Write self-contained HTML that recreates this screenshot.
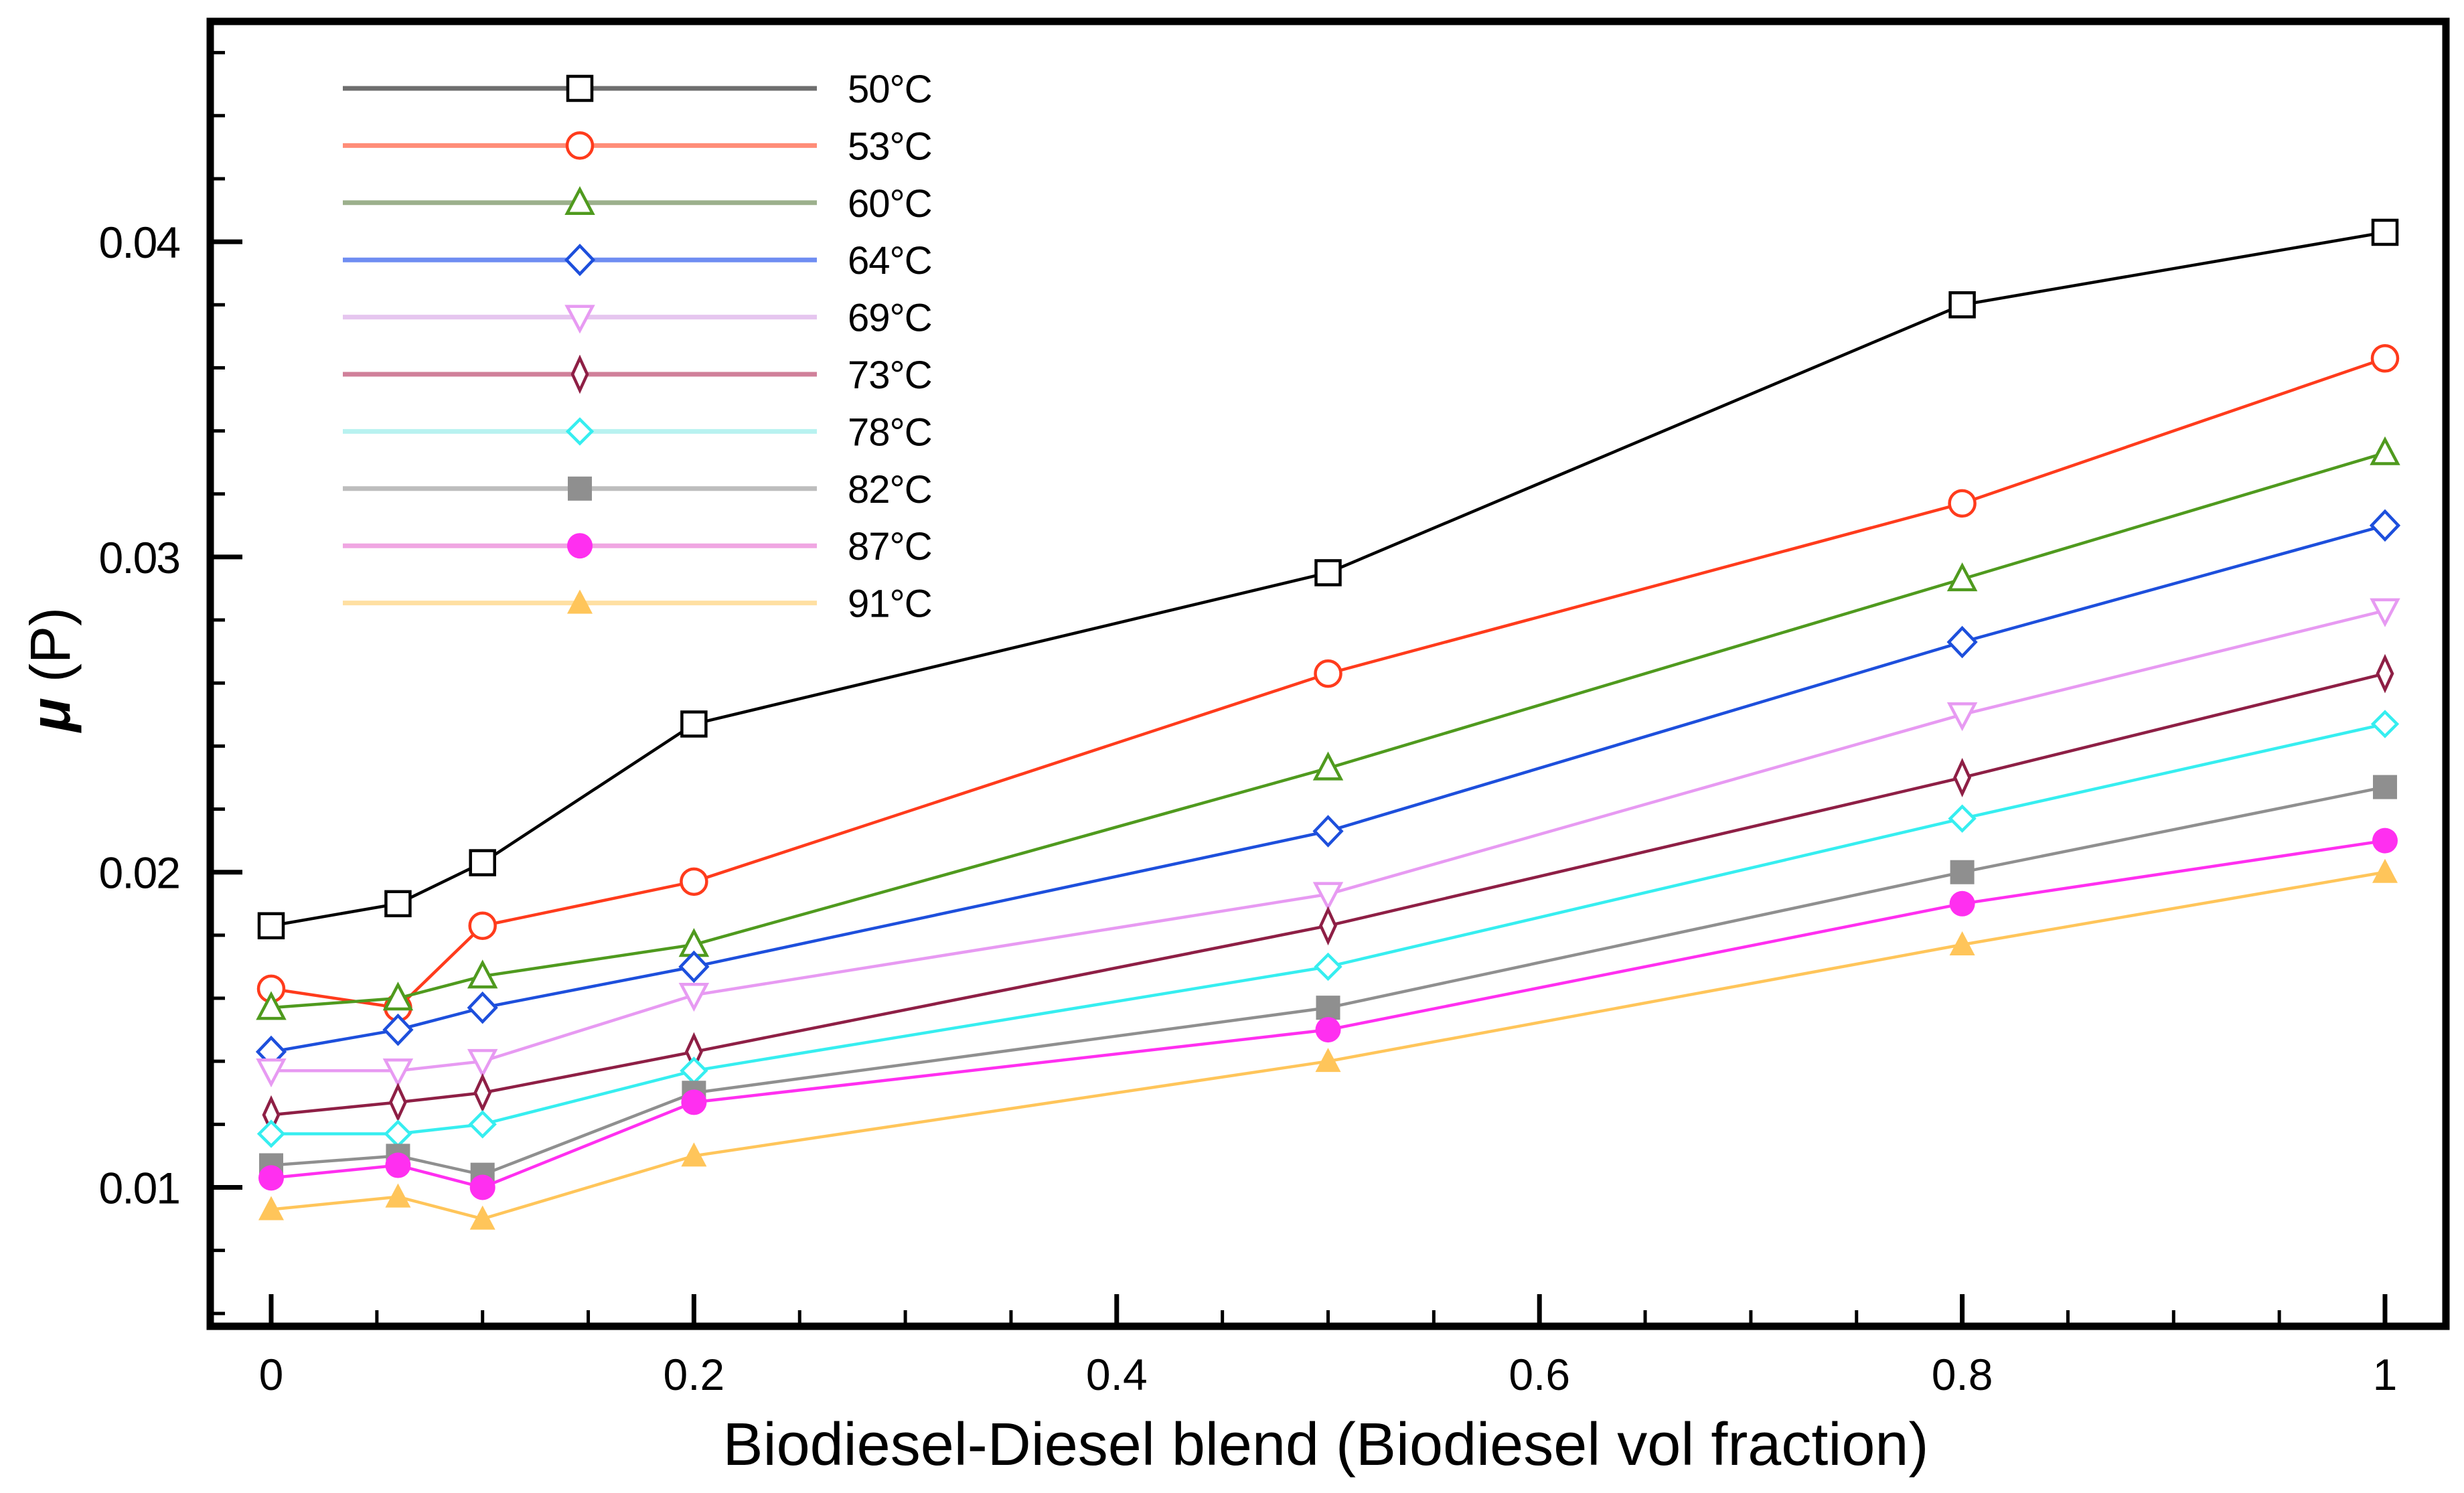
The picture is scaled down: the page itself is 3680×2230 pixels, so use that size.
<!DOCTYPE html>
<html><head><meta charset="utf-8"><style>
html,body{margin:0;padding:0;background:#fff;}
svg{display:block;font-family:"Liberation Sans",sans-serif;}
</style></head><body>
<svg id="chart" width="3680" height="2230" viewBox="0 0 3680 2230" xmlns="http://www.w3.org/2000/svg">
<g id="plot"></g>
<g id="axes"></g>
<g id="legend"></g>
</svg>
<script>
const xValues = [0, 0.06, 0.1, 0.2, 0.5, 0.8, 1];
const seriesNames = ["50°C","53°C","60°C","64°C","69°C","73°C","78°C","82°C","87°C","91°C"];
const s50 = [0.0183,0.0190,0.0203,0.0247,0.0295,0.0380,0.0403];
const s53 = [0.0163,0.0157,0.0183,0.0197,0.0263,0.0317,0.0363];
const s60 = [0.0157,0.0160,0.0167,0.0177,0.0233,0.0293,0.0333];
const s64 = [0.0143,0.0150,0.0157,0.0170,0.0213,0.0273,0.0310];
const s69 = [0.0137,0.0137,0.0140,0.0161,0.0193,0.0250,0.0283];
const s73 = [0.0123,0.0127,0.0130,0.0143,0.0183,0.0230,0.0263];
const s78 = [0.0117,0.0117,0.0120,0.0137,0.0170,0.0217,0.0247];
const s82 = [0.0107,0.0110,0.0104,0.0130,0.0157,0.0200,0.0227];
const s87 = [0.0103,0.0107,0.0100,0.0127,0.0150,0.0190,0.0210];
const s91 = [0.0093,0.0097,0.0090,0.0110,0.0140,0.0177,0.0200];
const xTickLabels = ["0","0.2","0.4","0.6","0.8","1"];
const yTickLabels = ["0.01","0.02","0.03","0.04"];

const allSeries=[s50,s53,s60,s64,s69,s73,s78,s82,s87,s91];
const colors=["#000000","#ff3b1c","#4f9a1e","#1d4fdc","#e79af2","#8e1f45","#36eef0","#8f8f8f","#ff2ff0","#ffc55a"];
const legColors=["#6e6e6e","#ff8d78","#9cb08c","#6f8df2","#e6c6ef","#d0809a","#b8f2f0","#bdbdbd","#f0a6e2","#ffe0a2"];
const markers=["sq","ci","tr","di","tri-d","di-n","di-s","sqf","cif","trf"];
const NS="http://www.w3.org/2000/svg";
const L=314,R=3653,T=32,B=1981;
function xs(v){return 405+v*3157;}
function ys(v){return 1773.5-(v-0.01)*47080;}
function mk(tag,attrs,parent){const e=document.createElementNS(NS,tag);for(const k in attrs)e.setAttribute(k,attrs[k]);parent.appendChild(e);return e;}
const plot=document.getElementById('plot'),axes=document.getElementById('axes'),legend=document.getElementById('legend');

function marker(type,cx,cy,col,parent){
  let e;const r=18;
  if(type==="sq"||type==="sqf") e=mk('rect',{x:cx-r,y:cy-r,width:2*r,height:2*r},parent);
  else if(type==="ci"||type==="cif") e=mk('circle',{cx:cx,cy:cy,r:r+1},parent);
  else if(type==="tr"||type==="trf") e=mk('polygon',{points:`${cx},${cy-r-2} ${cx+r+1},${cy+r-2} ${cx-r-1},${cy+r-2}`},parent);
  else if(type==="tri-d") e=mk('polygon',{points:`${cx-r-1},${cy-r+2} ${cx+r+1},${cy-r+2} ${cx},${cy+r+2}`},parent);
  else if(type==="di") e=mk('polygon',{points:`${cx},${cy-r-3} ${cx+r+2},${cy} ${cx},${cy+r+3} ${cx-r-2},${cy}`},parent);
  else if(type==="di-n") e=mk('polygon',{points:`${cx},${cy-r-6} ${cx+11},${cy} ${cx},${cy+r+6} ${cx-11},${cy}`},parent);
  else e=mk('polygon',{points:`${cx},${cy-r} ${cx+r},${cy} ${cx},${cy+r} ${cx-r},${cy}`},parent);
  const filled=type.endsWith('f');
  e.setAttribute('fill',filled?col:'#fff');
  e.setAttribute('stroke',col);
  e.setAttribute('stroke-width',filled?0:4.5);
  return e;
}

allSeries.forEach((arr,si)=>{
  const g=mk('g',{},plot);
  
  
  const pts=arr.map((v,i)=>xs(xValues[i])+','+ys(v)).join(' ');
  const pl=mk('polyline',{points:pts,fill:'none',stroke:colors[si],'stroke-width':4.5},g);
  
  
  arr.forEach((v,i)=>{
    const m=marker(markers[si],xs(xValues[i]),ys(v),colors[si],g);
    
    
  });
});

const fr=mk('rect',{x:L,y:T,width:R-L,height:B-T,fill:'none',stroke:'#000','stroke-width':11},axes);


for(let k=0;k<=20;k++){
  const v=k*0.05;const x=xs(v);const major=k%4===0;
  const t=mk('line',{x1:x,x2:x,y1:B,y2:B-(major?48:24),stroke:'#000','stroke-width':major?7:5},axes);
  
  
}
xTickLabels.forEach((lab,i)=>{
  const t=mk('text',{x:xs(i*0.2),y:2076,'text-anchor':'middle','font-size':66},axes);
  t.textContent=lab;
  
  
});
for(let k=3;k<=23;k++){
  const v=k*0.002;const y=ys(v);if(y>B||y<T)continue;const major=k%5===0;
  const t=mk('line',{x1:L,x2:L+(major?48:22),y1:y,y2:y,stroke:'#000','stroke-width':major?7:5},axes);
  
  
}
yTickLabels.forEach((lab,i)=>{
  const t=mk('text',{x:268,y:ys((i+1)*0.01)+24,'text-anchor':'end','font-size':66,'letter-spacing':-2},axes);
  t.textContent=lab;
  
  
});
const xt=mk('text',{x:1980,y:2188,'text-anchor':'middle','font-size':90},axes);
xt.textContent='Biodiesel-Diesel blend (Biodiesel vol fraction)';


const yt=mk('text',{x:0,y:0,'text-anchor':'middle','font-size':84,transform:'translate(104,1000) rotate(-90)'},axes);
yt.innerHTML='<tspan font-weight="bold" font-style="italic">μ</tspan> (P)';



seriesNames.forEach((nm,i)=>{
  const y=132+i*85.4;
  const g=mk('g',{},legend);
  
  
  mk('line',{x1:512,x2:1220,y1:y,y2:y,stroke:legColors[i],'stroke-width':7},g);
  marker(markers[i],866,y,colors[i],g);
  const t=mk('text',{x:1266,y:y+21,'font-size':58,'letter-spacing':-1},g);
  t.textContent=nm;
});
</script>
</body></html>
